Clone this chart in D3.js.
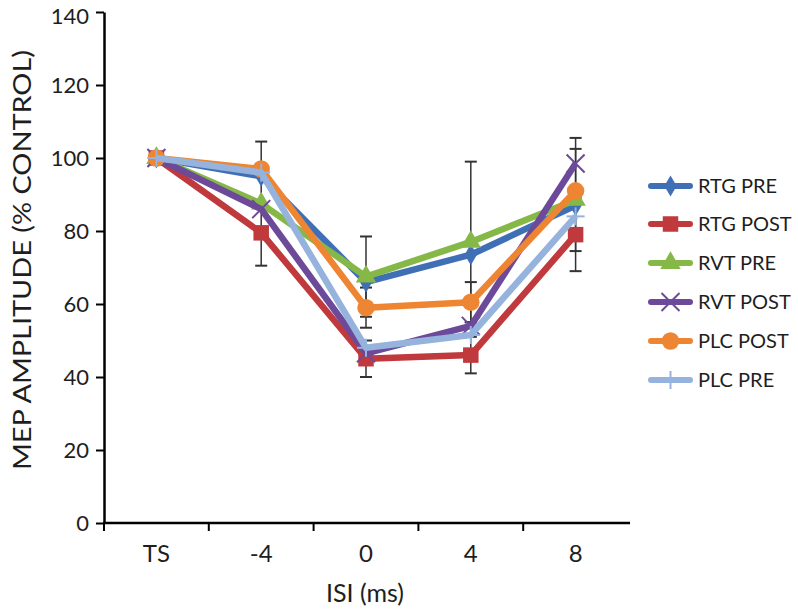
<!DOCTYPE html>
<html><head><meta charset="utf-8">
<script src="https://cdn.jsdelivr.net/npm/d3@7"></script>
<style>body{margin:0;background:#fff;} text{font-family:Lato,"Open Sans",sans-serif;}</style>
</head><body>
<svg id="c" width="798" height="610"></svg>
<script>
const categories = ["TS","-4","0","4","8"];
const yTicks = [0,20,40,60,80,100,120,140];
const seriesNames = ["RTG PRE","RTG POST","RVT PRE","RVT POST","PLC POST","PLC PRE"];
const rtgPre   = [100, 95, 66, 73.5, 87];
const rtgPost  = [100, 79.5, 45, 46, 79];
const rvtPre   = [100, 87.5, 67.5, 77, 88.5];
const rvtPost  = [100, 86, 46.5, 54, 98.5];
const plcPost  = [100, 97, 59, 60.5, 91];
const plcPre   = [100, 96, 48, 51.5, 84];
const rtgPreErr  = [0,0,0,0,0];
const rtgPostErr = [0,0,5,5,10];
const rvtPreErr  = [0,17,11,22,14];
const rvtPostErr = [0,0,0,0,7];
const plcPostErr = [0,0,5.5,5.5,0];
const plcPreErr  = [0,0,0,0,0];
const colors = ["#3f6fb5","#c0393c","#86b847","#6d4a99","#ee8532","#95b3dc"];
const symbols = ["diamond","square","triangle","x","circle","plus"];

const series = seriesNames.map((n,i)=>({name:n, values:[rtgPre,rtgPost,rvtPre,rvtPost,plcPost,plcPre][i],
  err:[rtgPreErr,rtgPostErr,rvtPreErr,rvtPostErr,plcPostErr,plcPreErr][i], color:colors[i], sym:symbols[i]}));

const svg = d3.select("#c");
const x = d3.scaleBand().domain(categories).range([104,628]);
const y = d3.scaleLinear().domain([0,140]).range([523,12]);
const txt = "#1e1e1e";

// axes
const yAxis = svg.append("g").attr("transform","translate(104,0)")
  .call(d3.axisLeft(y).tickValues(yTicks).tickSize(8).tickSizeOuter(0));
yAxis.select(".domain").attr("stroke","#000").attr("stroke-width",2.5);
yAxis.selectAll(".tick line").attr("stroke","#000").attr("stroke-width",2);
yAxis.selectAll(".tick text").attr("font-size",22).attr("fill",txt).attr("x",-15)
  .attr("dy",d=>d===140?"0.5em":"0.36em");

const xAxis = svg.append("g").attr("transform","translate(0,523)")
  .call(d3.axisBottom(x).tickSize(0).tickSizeOuter(0));
xAxis.select(".domain").attr("stroke","#000").attr("stroke-width",2.5).attr("d","M103,0H630");
xAxis.selectAll(".tick text").attr("font-size",24).attr("fill",txt).attr("y",39).attr("dy",0);
// tick marks at band boundaries
const bounds = categories.map(c=>x(c));
svg.append("g").selectAll("line").data(bounds).join("line")
  .attr("x1",d=>d).attr("x2",d=>d).attr("y1",523).attr("y2",531)
  .attr("stroke","#000").attr("stroke-width",2);

svg.append("text").attr("x",365).attr("y",602).attr("text-anchor","middle")
  .attr("font-size",25).attr("fill",txt).text("ISI (ms)");
svg.append("text").attr("transform","translate(31,260) rotate(-90)").attr("text-anchor","middle")
  .attr("font-size",25).attr("fill",txt).attr("textLength",420).attr("lengthAdjust","spacingAndGlyphs")
  .text("MEP AMPLITUDE (% CONTROL)");

const cx = c => x(c) + x.bandwidth()/2;

// error bars
const eb = svg.append("g");
series.forEach(s=>{
  s.values.forEach((v,i)=>{
    const e = s.err[i]; if(!e) return;
    const X = cx(categories[i]);
    eb.append("line").attr("x1",X).attr("x2",X).attr("y1",y(v+e)).attr("y2",y(v-e)).attr("stroke","#333").attr("stroke-width",1.5);
    [v+e,v-e].forEach(t=>eb.append("line").attr("x1",X-6).attr("x2",X+6).attr("y1",y(t)).attr("y2",y(t)).attr("stroke","#333").attr("stroke-width",2));
  });
});

const line = d3.line().x((d,i)=>cx(categories[i])).y(d=>y(d));
const symMap = {diamond:d3.symbolDiamond, square:d3.symbolSquare, triangle:d3.symbolTriangle, circle:d3.symbolCircle};
const symSize = {diamond:130, square:240, triangle:180, circle:240};

function drawMarker(g, s, X, Y){
  if(s.sym==="x" || s.sym==="plus"){
    const r = 9;
    const segs = s.sym==="x" ? [[-r,-r,r,r],[-r,r,r,-r]] : [[-r,0,r,0],[0,-r,0,r]];
    segs.forEach(p=>g.append("line").attr("x1",X+p[0]).attr("y1",Y+p[1]).attr("x2",X+p[2]).attr("y2",Y+p[3])
      .attr("stroke",s.color).attr("stroke-width",2));
  } else {
    g.append("path").attr("d",d3.symbol().type(symMap[s.sym]).size(symSize[s.sym])())
      .attr("transform",`translate(${X},${Y})`).attr("fill",s.color);
  }
}

const lg = svg.append("g");
series.forEach(s=>{
  lg.append("path").datum(s.values).attr("d",line).attr("fill","none")
    .attr("stroke",s.color).attr("stroke-width",6.5).attr("stroke-linejoin","round");
  s.values.forEach((v,i)=>drawMarker(lg, s, cx(categories[i]), y(v)));
});

// legend
const legY = [186,224,263,302,341,380];
const leg = svg.append("g");
series.forEach((s,i)=>{
  leg.append("line").attr("x1",651).attr("x2",690).attr("y1",legY[i]).attr("y2",legY[i])
    .attr("stroke",s.color).attr("stroke-width",6).attr("stroke-linecap","round");
  drawMarker(leg, s, 670.5, legY[i]);
  leg.append("text").attr("x",698).attr("y",legY[i]+7).attr("font-size",20).attr("fill",txt).text(s.name);
});
</script>
</body></html>
